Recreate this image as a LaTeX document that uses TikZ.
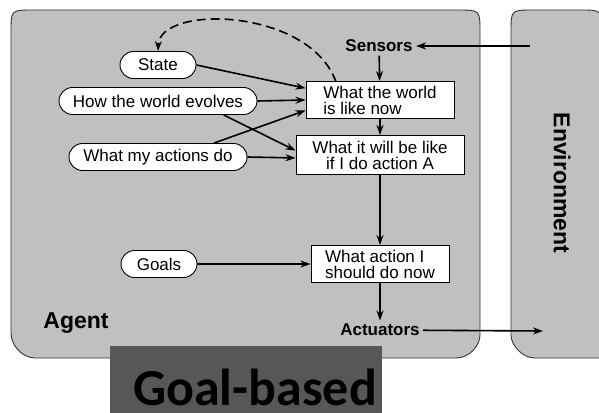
\documentclass[tikz,border=0pt]{standalone}
\usepackage{fontspec}
\setmainfont{Liberation Sans}
\newfontfamily\titlefont{Carlito}
\usetikzlibrary{positioning}
\usetikzlibrary{shapes.misc}
\usetikzlibrary{arrows.meta}
\definecolor{agentgray}{RGB}{192, 192, 192}
\definecolor{titlegray}{RGB}{87, 87, 87}
\tikzset{
  oval/.style={rounded rectangle, draw=black, fill=white, line width=0.9pt, minimum height=27pt, inner sep=1pt, font=\fontsize{17}{19}\selectfont},
  box/.style={rectangle, draw=black, fill=white, line width=0.9pt, inner sep=1pt, font=\fontsize{17}{16}\selectfont},
  port/.style={font=\fontsize{17}{19}\selectfont\bfseries},
  flow/.style={line width=1.6pt, -{Stealth[length=10pt, width=7pt]}},
  panel/.style={fill=agentgray, draw=black!80, line width=0.9pt},
}
\begin{document}
\begin{tikzpicture}
\useasboundingbox (0pt, 0pt) rectangle (599pt, -412pt);
% agent and environment panels
\draw [panel] (11pt, -333pt) -- (11pt, -32pt) .. controls (11pt, -10pt) .. (33pt, -10pt) -- (458pt, -10pt) .. controls (480pt, -10pt) .. (480pt, -32pt) -- (480pt, -335pt) .. controls (480pt, -345pt) and (470pt, -358pt) .. (456pt, -358pt) -- (35pt, -358pt) .. controls (22pt, -358pt) and (11pt, -345pt) .. cycle;
\draw [panel] (511pt, -335pt) -- (511pt, -32pt) .. controls (511pt, -10pt) .. (533pt, -10pt) -- (580pt, -10pt) .. controls (602pt, -10pt) .. (602pt, -32pt) -- (602pt, -358pt) -- (535pt, -358pt) .. controls (522pt, -358pt) and (511pt, -345pt) .. cycle;
\node (agent) [font=\fontsize{23}{25}\selectfont\bfseries] at (76pt, -323pt) {Agent};
\node (environment) [font=\fontsize{23}{25}\selectfont\bfseries, rotate=-90] at (562pt, -183pt) {Environment};
% knowledge ovals
\node (state) [oval, minimum width=78pt] at (158pt, -65pt) {State};
\node (evolves) [oval, minimum width=200pt] at (158pt, -101pt) {How the world evolves};
\node (actions) [oval, minimum width=180pt] at (158pt, -157pt) {What my actions do};
\node (goals) [oval, minimum width=78pt] at (159pt, -264pt) {Goals};
% decision boxes
\node (sensors) [port] at (379pt, -46pt) {Sensors};
\node (now) [box, align=left, minimum width=148pt, minimum height=37pt] at (380pt, -100pt) {What the world\\is like now};
\node (will) [box, align=center, minimum width=168pt, minimum height=39pt] at (380pt, -155pt) {What it will be like\\if I do action A};
\node (act) [box, align=left, minimum width=138pt, minimum height=37pt] at (380pt, -264pt) {What action I\\should do now};
\node (actuators) [port] at (380pt, -330pt) {Actuators};
\coordinate (percept) at (530pt, -46pt);
\coordinate (effect) at (543pt, -331pt);
% arrows
\draw [flow] (percept) to (sensors);
\draw [flow] (sensors) to (now);
\draw [flow] (now) to (will);
\draw [flow] (will) to (act);
\draw [flow] (act) to (actuators);
\draw [flow] (actuators) to (effect);
\draw [flow] (state.east) to (now.171);
\draw [flow] (evolves.east) to (now.west);
\draw [flow] (evolves.-12) to (will.177);
\draw [flow] (actions.14) to (now.188);
\draw [flow] (actions.east) to (will.182);
\draw [flow] (goals) to (act);
\draw [flow, dash pattern=on 9pt off 5pt] (336pt, -82pt) .. controls (310pt, -8pt) and (160pt, -4pt) .. (state.north);
% caption
\fill [titlegray] (110pt, -346pt) rectangle (382pt, -420pt);
\node (goalbased) [anchor=base, font=\titlefont\fontsize{52}{56}\selectfont\bfseries] at (255pt, -405pt) {Goal-based};
\end{tikzpicture}
\end{document}
